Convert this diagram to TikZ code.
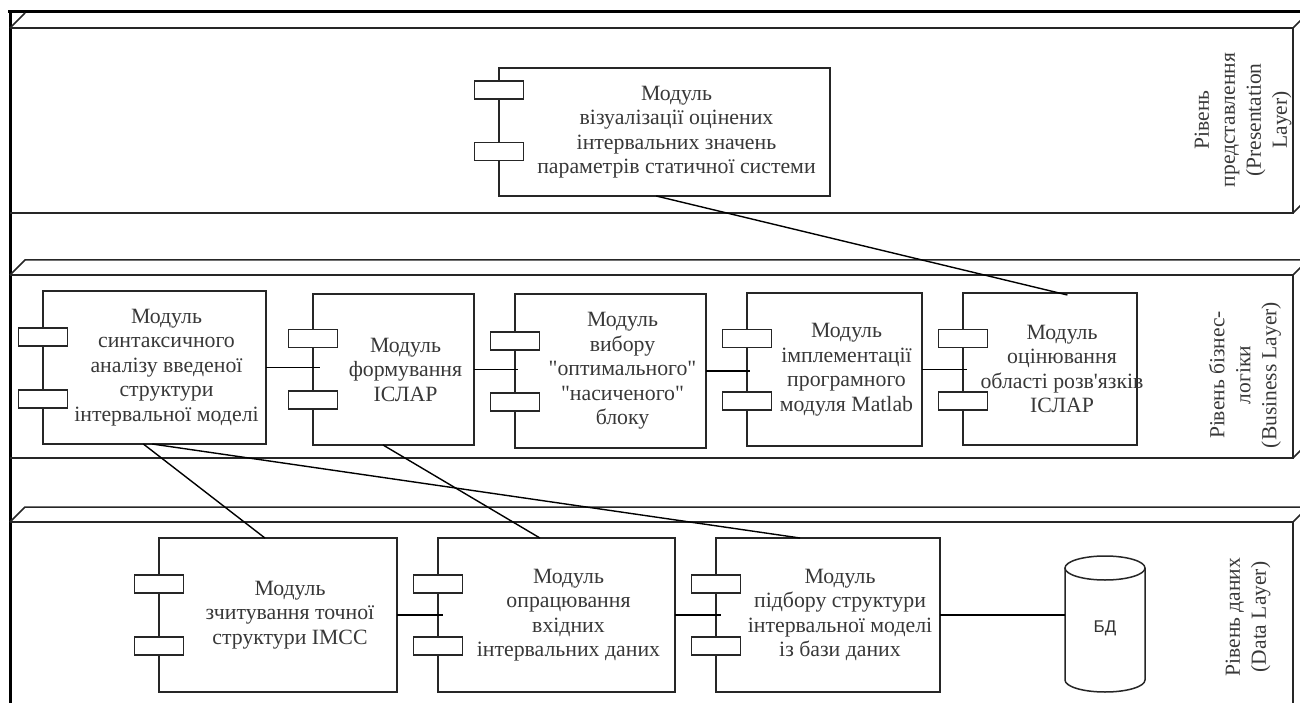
\documentclass[tikz,border=0pt]{standalone}
\usepackage{fontspec}
\setmainfont{Liberation Serif}[Ligatures=TeXOff]
\newfontfamily\sansf{Liberation Sans}
\usetikzlibrary{calc}
\newcommand{\compbox}[8]{%
  \node[comp, minimum width={#4-#2}, minimum height={#5-#3}] (#1) at ({(#2+#4)/2},{(#3+#5)/2}) {};
  \node[port] (#1p1) at (#2,#6) {};
  \node[port] (#1p2) at (#2,#7) {};
  \node[txt] (#1t) at ({(#2+24+#4)/2},{(#3+#5)/2}) {#8};
}
\begin{document}
\begin{tikzpicture}[x=1pt,y=-1pt,
  comp/.style={draw=black!85, line width=1.5pt, rectangle, inner sep=0pt, outer sep=0pt},
  port/.style={draw=black!85, line width=1.5pt, fill=white, rectangle, inner sep=0pt, outer sep=0pt, minimum width=49pt, minimum height=18pt},
  txt/.style={align=center, font=\fontsize{21.8}{24.5}\selectfont, text=black!78, inner sep=0pt},
  lbl/.style={align=center, font=\fontsize{21.5}{26}\selectfont, text=black!78, rotate=90, inner sep=0pt},
  layer/.style={draw=black!85, line width=1.5pt},
  conn/.style={draw=black, line width=1.4pt},
]
\useasboundingbox (0,0) rectangle (1300,703);
\clip (0,0) rectangle (1300,703);
% outer frame
\draw[line width=3pt] (8,12) -- (1300,12);
\draw[line width=3pt] (10,12) -- (10,710);
% presentation layer
\draw[layer] (10,28) -- (1293,28) -- (1293,213) -- (10,213);
\draw[layer] (10,28) -- (25,13);
\draw[layer] (1293,28) -- (1308,13);
\draw[layer] (1293,213) -- (1308,198);
% business layer
\draw[layer] (10,275) -- (1293,275) -- (1293,458) -- (10,458);
\draw[layer] (10,275) -- (25,260) -- (1308,260);
\draw[layer] (1293,275) -- (1308,260);
\draw[layer] (1293,458) -- (1308,443);
% data layer
\draw[layer] (10,522) -- (1293,522) -- (1293,710);
\draw[layer] (10,522) -- (25,507) -- (1308,507);
\draw[layer] (1293,522) -- (1308,507);
% labels
\node[lbl] (Lp) at (1243,120) {Рівень\\представлення\\(Presentation\\Layer)};
\node[lbl] (Lb) at (1245,375) {Рівень бізнес-\\логіки\\(Business Layer)};
\node[lbl] (Ld) at (1248,617) {Рівень даних\\(Data Layer)};
% components
\compbox{P}{499}{68}{830}{196}{90}{151.5}{Модуль\\візуалізації оцінених\\інтервальних значень\\параметрів статичної системи}
\compbox{B1}{43}{291}{266}{444}{337}{399}{Модуль\\синтаксичного\\аналізу введеної\\структури\\інтервальної моделі}
\compbox{B2}{313}{294}{474}{445}{338.5}{400}{Модуль\\формування\\ІСЛАР}
\compbox{B3}{515}{294}{706}{448}{341}{402}{Модуль\\вибору\\"оптимального"\\"насиченого"\\блоку}
\compbox{B4}{747}{293}{922}{446}{338.5}{401}{Модуль\\імплементації\\програмного\\модуля Matlab}
\compbox{B5}{963}{293}{1137}{445}{338.5}{401}{Модуль\\оцінювання\\області розв'язків\\ІСЛАР}
\compbox{D1}{159}{538}{397}{692}{584}{646}{Модуль\\зчитування точної\\структури ІМСС}
\compbox{D2}{438}{538}{675}{692}{584}{646}{Модуль\\опрацювання\\вхідних\\інтервальних даних}
\compbox{D3}{716}{538}{940}{692}{584}{646}{Модуль\\підбору структури\\інтервальної моделі\\із бази даних}
% database
\draw[layer, fill=white] (1065,568) -- (1065,680) arc (180:360:40pt and 12pt) -- (1145,568);
\draw[layer] (1105,568) ellipse (40pt and 12pt);
\node[inner sep=0pt, font=\sansf\fontsize{17}{20}\selectfont, text=black!80] (db) at (1105,628) {БД};
\coordinate (dbw) at (1065,615);
% connectors
\draw[conn] (B1.east) -- ($(B1.east -| B2.west)+(7,0)$);
\draw[conn] (B2.east) -- ($(B2.east -| B3.west)+(3,0)$);
\draw[conn] (B3.east) -- ($(B3.east -| B4.west)+(3,0)$);
\draw[conn] (B4.east) -- ($(B4.east -| B5.west)+(4,0)$);
\draw[conn] (D1.east) -- ($(D1.east -| D2.west)+(5,0)$);
\draw[conn] (D2.east) -- ($(D2.east -| D3.west)+(5,0)$);
\draw[conn] (D3.east) -- (D3.east -| dbw);
\draw[conn] ($(P.south west)!0.475!(P.south east)$) -- ($(B5.north west)!0.6!(B5.north east)+(0,2)$);
\draw[conn] ($(B1.south west)!0.45!(B1.south east)$) -- ($(D1.north west)!0.445!(D1.north east)$);
\draw[conn] ($(B1.south west)!0.49!(B1.south east)$) -- ($(D3.north west)!0.375!(D3.north east)$);
\draw[conn] ($(B2.south west)!0.435!(B2.south east)$) -- ($(D2.north west)!0.43!(D2.north east)$);
\end{tikzpicture}
\end{document}
